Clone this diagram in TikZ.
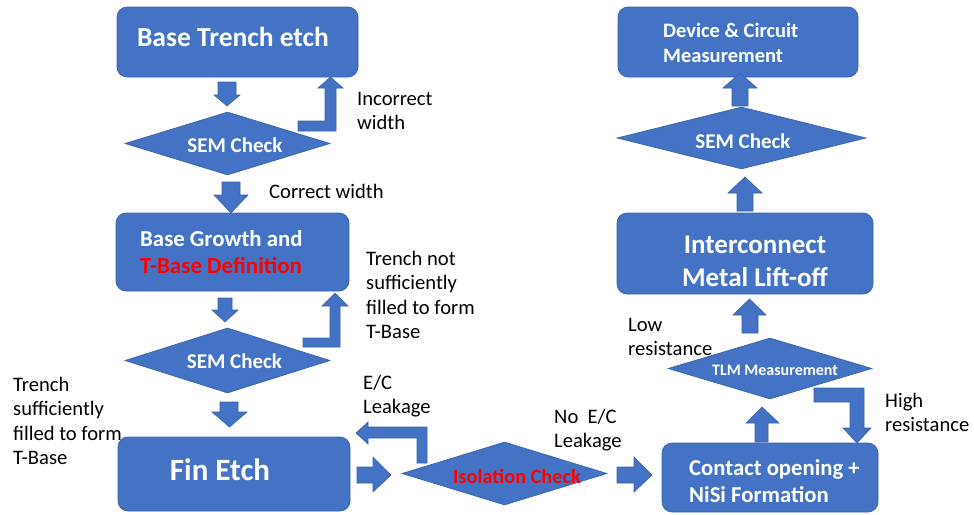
\documentclass[tikz,border=0pt]{standalone}
\usepackage{fontspec}
\setmainfont{Carlito}
\usetikzlibrary{shapes.geometric}
\definecolor{boxblue}{HTML}{4472C4}
\definecolor{boxedge}{HTML}{3A62AC}
\definecolor{redtxt}{HTML}{FF0000}
\begin{document}
\begin{tikzpicture}[x=1pt,y=-1pt,
  box/.style={rectangle, draw=boxedge, fill=boxblue, rounded corners=10pt, line width=0.7pt, inner sep=0pt},
  dia/.style={diamond, draw=boxedge, fill=boxblue, inner sep=0pt, line width=0.7pt},
  barrow/.style={draw=boxedge, fill=boxblue, line width=0.6pt, line join=miter},
  wt/.style={text=white, font=\bfseries\fontsize{#1}{#1}\selectfont, anchor=base, inner sep=0pt},
  wtl/.style={text=white, font=\bfseries\fontsize{#1}{#1}\selectfont, anchor=base west, inner sep=0pt},
  rt/.style={text=redtxt, font=\bfseries\fontsize{#1}{#1}\selectfont, anchor=base west, inner sep=0pt},
  rtc/.style={text=redtxt, font=\bfseries\fontsize{#1}{#1}\selectfont, anchor=base, inner sep=0pt},
  lbl/.style={text=black, font=\fontsize{20.6}{20.6}\selectfont, anchor=base west, inner sep=0pt}
]
\fill[white] (0,0) rectangle (974,514);
\useasboundingbox (0,0) rectangle (974,514);

% ---------- boxes ----------
\node[box, minimum width=241, minimum height=70] (bte) at (237.5,42) {};
\node[box, minimum width=233, minimum height=78] (bgr) at (232.5,252) {};
\node[box, minimum width=232, minimum height=74] (fin) at (234,474) {};
\node[box, minimum width=240, minimum height=70] (dev) at (738,42) {};
\node[box, minimum width=256, minimum height=81] (inter) at (745,253.5) {};
\node[box, minimum width=216, minimum height=69] (cont) at (770,477.5) {};

% ---------- diamonds ----------
\node[dia, minimum width=205, minimum height=63] (sem1) at (227.5,143.5) {};
\node[dia, minimum width=205, minimum height=65] (sem2) at (227.5,360.5) {};
\node[dia, minimum width=205, minimum height=63] (iso) at (504.5,473.5) {};
\node[dia, minimum width=204, minimum height=61] (tlm) at (770,368.5) {};
\node[dia, minimum width=249, minimum height=62] (sem3) at (741.5,138) {};

% ---------- straight block arrows ----------
% bte -> sem1
\draw[barrow] (218,82) -- (236,82) -- (236,95) -- (240,95) -- (227,106) -- (214,95) -- (218,95) -- cycle;
% sem1 -> bgr
\draw[barrow] (222,182) -- (240,182) -- (240,195) -- (248,195) -- (231,213) -- (214,195) -- (222,195) -- cycle;
% bgr -> sem2
\draw[barrow] (218,298) -- (232,298) -- (232,310) -- (238,310) -- (225,322) -- (212,310) -- (218,310) -- cycle;
% sem2 -> fin
\draw[barrow] (220,402) -- (238,402) -- (238,412) -- (247,412) -- (229.5,427) -- (212,412) -- (220,412) -- cycle;
% fin -> iso
\draw[barrow] (357,467) -- (373,467) -- (373,457) -- (391,475) -- (373,492) -- (373,483) -- (357,483) -- cycle;
% iso -> cont
\draw[barrow] (617,467) -- (634,467) -- (634,457) -- (652,475) -- (634,492) -- (634,483) -- (617,483) -- cycle;
% cont -> tlm
\draw[barrow] (755,442) -- (755,423) -- (746,423) -- (762,407) -- (779,423) -- (768,423) -- (768,442) -- cycle;
% tlm -> inter
\draw[barrow] (742,333) -- (742,315) -- (733,315) -- (749.5,299) -- (766,315) -- (758,315) -- (758,333) -- cycle;
% inter -> sem3
\draw[barrow] (737,211) -- (737,193) -- (728,193) -- (745,177) -- (762,193) -- (753,193) -- (753,211) -- cycle;
% sem3 -> dev
\draw[barrow] (732,106) -- (732,88) -- (723,88) -- (740,73) -- (757,88) -- (748,88) -- (748,106) -- cycle;

% ---------- bent block arrows ----------
% sem1 -> bte (incorrect width)
\draw[barrow] (298,121) -- (325,121) -- (325,88) -- (318,88) -- (330.5,77) -- (343,88) -- (336,88) -- (336,131) -- (298,131) -- cycle;
% sem2 -> bgr
\draw[barrow] (303,338) -- (330,338) -- (330,306) -- (322,306) -- (335,293) -- (348,306) -- (340,306) -- (340,347) -- (303,347) -- cycle;
% iso -> fin (E/C leakage)
\draw[barrow] (417,463) -- (417,438) -- (368,438) -- (368,444) -- (356,433) -- (368,422) -- (368,427) -- (427,427) -- (427,463) -- cycle;
% tlm -> cont (high resistance)
\draw[barrow] (814,388) -- (864,388) -- (864,428) -- (871,428) -- (857,443) -- (843,428) -- (850,428) -- (850,402) -- (814,402) -- cycle;

% ---------- texts in shapes ----------
\node[wt=27.5] (t-bte) at (233,46) {Base Trench etch};
\node[wt=21] (t-sem1) at (235,152) {SEM Check};
\node[wtl=22.8] (t-bgr1) at (140,246) {Base Growth and};
\node[rt=23] (t-bgr2) at (140,273.5) {T-Base Definition};
\node[wt=21] (t-sem2) at (234.5,368) {SEM Check};
\node[wt=31] (t-fin) at (220,480) {Fin Etch};
\node[rtc=20.3] (t-iso) at (517,483) {Isolation Check};
\node[wtl=22.7] (t-cont1) at (689,475) {Contact opening +};
\node[wtl=22.7] (t-cont2) at (689,502) {NiSi Formation};
\node[wt=16] (t-tlm) at (775,375) {TLM Measurement};
\node[wt=27] (t-int1) at (755,253) {Interconnect};
\node[wt=27] (t-int2) at (755,286) {Metal Lift-off};
\node[wt=21] (t-sem3) at (743,148) {SEM Check};
\node[wtl=20.5] (t-dev1) at (663,37) {Device \& Circuit};
\node[wtl=20.5] (t-dev2) at (663,62) {Measurement};

% ---------- labels ----------
\node[lbl] (l-inc1) at (357,105) {Incorrect};
\node[lbl] (l-inc2) at (357,129) {width};
\node[lbl] (l-cor) at (269,198) {Correct width};
\node[lbl] (l-tn1) at (366,265) {Trench not};
\node[lbl] (l-tn2) at (366,289.5) {sufficiently};
\node[lbl] (l-tn3) at (366,314) {filled to form};
\node[lbl] (l-tn4) at (366,338.5) {T-Base};
\node[lbl] (l-ts1) at (13,391) {Trench};
\node[lbl] (l-ts2) at (13,415.5) {sufficiently};
\node[lbl] (l-ts3) at (13,440) {filled to form};
\node[lbl] (l-ts4) at (13,464.5) {T-Base};
\node[lbl] (l-ec1) at (363,389) {E/C};
\node[lbl] (l-ec2) at (363,413.5) {Leakage};
\node[lbl] (l-nec1) at (554,423) {No\ \ E/C};
\node[lbl] (l-nec2) at (554,447.5) {Leakage};
\node[lbl] (l-hi1) at (885,407) {High};
\node[lbl] (l-hi2) at (885,431.5) {resistance};
\node[lbl] (l-lo1) at (628,331) {Low};
\node[lbl] (l-lo2) at (628,355.5) {resistance};
\end{tikzpicture}
\end{document}
